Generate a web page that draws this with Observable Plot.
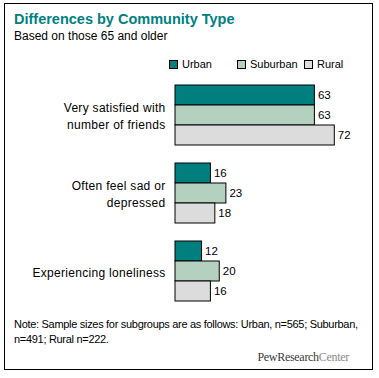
<!DOCTYPE html>
<html>
<head>
<meta charset="utf-8">
<script src="https://cdn.jsdelivr.net/npm/d3@7"></script>
<script src="https://cdn.jsdelivr.net/npm/@observablehq/plot@0.6"></script>
<style>
  html, body { margin: 0; padding: 0; background: #fff; }
  body { font-family: "Liberation Sans", Arial, sans-serif; color: #000; }
  #wrap { position: relative; width: 379px; height: 378px; overflow: hidden; }
  #frame { position: absolute; left: 4px; top: 3px; width: 367px; height: 365px; border: 1px solid #000; }
  #title { position: absolute; left: 14px; top: 11px; font-size: 14.5px; font-weight: bold; color: #00807f; white-space: nowrap; }
  #subtitle { position: absolute; left: 14px; top: 29px; font-size: 12px; white-space: nowrap; }
  #legend { position: absolute; left: 0; top: 58px; width: 379px; height: 14px; font-size: 11px; }
  .lg { position: absolute; top: 0; white-space: nowrap; }
  .sw { display: inline-block; width: 7px; height: 7px; border: 1px solid #000; vertical-align: -1px; margin-right: 4px; }
  #chart { position: absolute; left: 0; top: 75px; }
  #note { position: absolute; left: 14px; top: 317px; width: 362px; font-size: 11px; line-height: 15px; letter-spacing: -0.3px; }
  #logo { position: absolute; right: 30px; top: 350px; font-family: "Liberation Serif", "Times New Roman", serif; font-size: 12px; white-space: nowrap; letter-spacing: -0.3px; }
  #chart svg text.qlabel { letter-spacing: 0.3px; }
</style>
</head>
<body>
<div id="wrap">
  <div id="frame"></div>
  <div id="title">Differences by Community Type</div>
  <div id="subtitle">Based on those 65 and older</div>
  <div id="legend"></div>
  <div id="chart"></div>
  <div id="note">Note: Sample sizes for subgroups are as follows: Urban, n=565; Suburban, n=491; Rural n=222.</div>
  <div id="logo"><span style="color:#3a3a3a">PewResearch</span><span style="color:#8a8a8a">Center</span></div>
</div>
<script>
const questions = ["Very satisfied with number of friends", "Often feel sad or depressed", "Experiencing loneliness"];
const questionLabels = ["Very satisfied with\nnumber of friends", "Often feel sad or\ndepressed", "Experiencing loneliness"];
const types = ["Urban", "Suburban", "Rural"];
const colors = ["#007f7f", "#b3d1be", "#dcdcdc"];
const urban = [63, 16, 12];
const suburban = [63, 23, 20];
const rural = [72, 18, 16];

const series = [urban, suburban, rural];
const data = [];
questions.forEach((q, i) => {
  types.forEach((t, j) => data.push({question: q, type: t, value: series[j][i]}));
});
const labelRows = questions.map((q, i) => ({question: q, label: questionLabels[i]}));

// legend
const legendX = [169, 237, 304];
const legend = document.getElementById("legend");
types.forEach((t, j) => {
  const el = document.createElement("div");
  el.className = "lg";
  el.style.left = legendX[j] + "px";
  el.innerHTML = `<span class="sw" style="background:${colors[j]}"></span>${t}`;
  legend.appendChild(el);
});

const chart = Plot.plot({
  width: 379,
  height: 235,
  marginLeft: 175,
  marginRight: 27,
  marginTop: 8,
  marginBottom: 6,
  style: {fontFamily: "Liberation Sans, Arial, sans-serif", fontSize: "11px", color: "#000", background: "transparent"},
  x: {domain: [0, 80], axis: null},
  y: {domain: types, padding: 0, axis: null},
  fy: {domain: questions, paddingInner: 0.2, paddingOuter: 0, axis: null},
  color: {domain: types, range: colors},
  marks: [
    Plot.barX(data, {x: "value", y: "type", fy: "question", fill: "type", stroke: "#000", strokeWidth: 1}),
    Plot.text(data, {x: "value", y: "type", fy: "question", text: d => String(d.value), dx: 3, textAnchor: "start", fill: "#000", fontSize: 11.5}),
    Plot.text(labelRows, {fy: "question", text: "label", frameAnchor: "left", dx: -10, textAnchor: "end", lineHeight: 1.42, fontSize: 12, fill: "#000", className: "qlabel"})
  ]
});
chart.querySelectorAll("g[aria-label='text']").forEach((g, i) => { if (i === 1) g.querySelectorAll("text").forEach(t => t.style.letterSpacing = "0.3px"); });
document.getElementById("chart").appendChild(chart);
</script>
</body>
</html>
